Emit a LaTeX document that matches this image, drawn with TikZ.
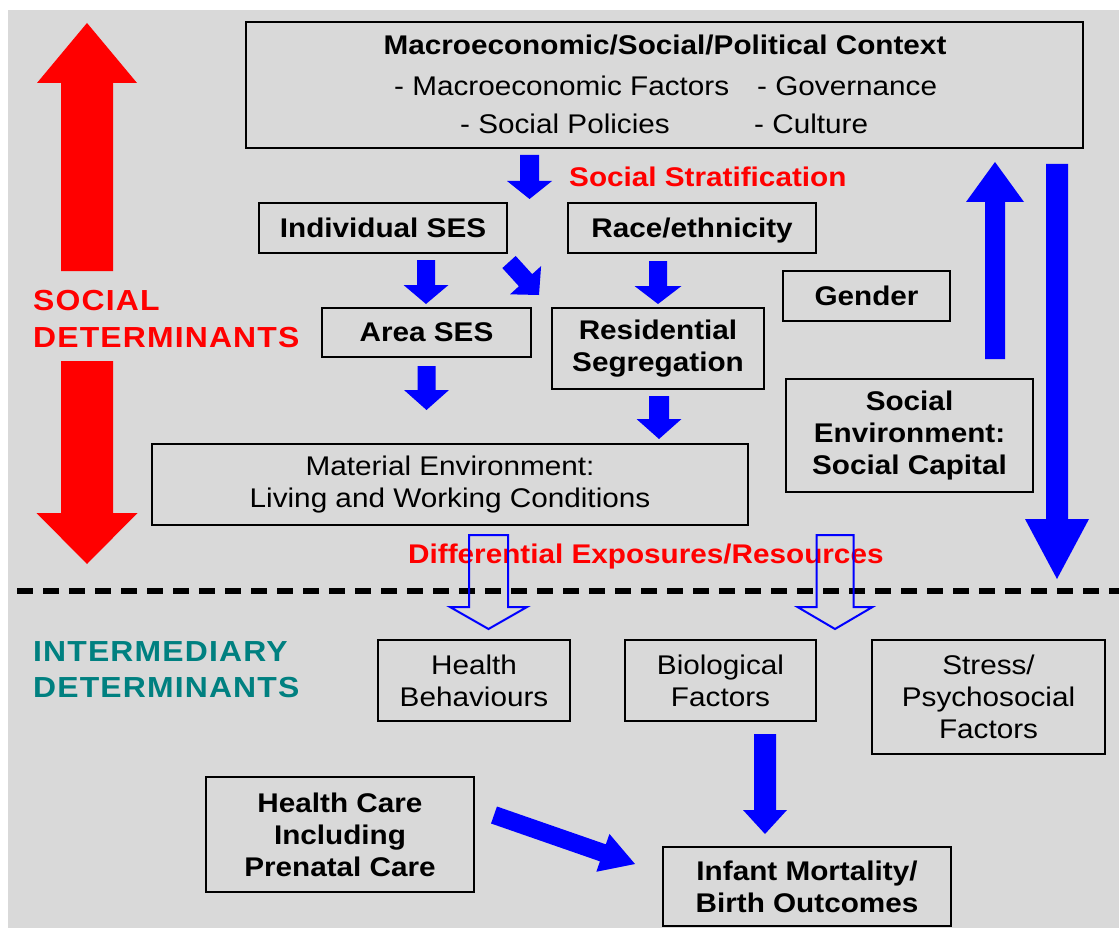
\documentclass[tikz,border=0pt]{standalone}
\usepackage{fontspec}
\setmainfont{Liberation Sans}[FakeStretch=1.1]
\newfontfamily\labfont{Liberation Sans}[FakeStretch=1.1,LetterSpace=4]
\usetikzlibrary{calc}
\definecolor{bg}{RGB}{217,217,217}
\definecolor{tealc}{RGB}{0,128,128}
\definecolor{pblue}{RGB}{0,0,255}
\definecolor{pred}{RGB}{255,0,0}
% block arrow: style, from, to, half shaft width, half head width, head length
\newcommand\barr[6]{%
  \coordinate (hb) at ($(#3)!#6!(#2)$);
  \path[#1] ($(#2)!#4!90:(#3)$) -- ($(hb)!#4!90:(#3)$) -- ($(hb)!#5!90:(#3)$)
    -- (#3) -- ($(hb)!#5!-90:(#3)$) -- ($(hb)!#4!-90:(#3)$) -- ($(#2)!#4!-90:(#3)$) -- cycle;}
\begin{document}
\begin{tikzpicture}[x=1pt,y=-1pt,
  box/.style={draw=black, line width=2.6pt, inner sep=0pt, align=center, font=\fontsize{27}{32}\selectfont},
  bbox/.style={box, font=\fontsize{27}{32}\selectfont\bfseries},
  txt/.style={inner sep=0pt, font=\fontsize{27}{32}\selectfont},
  btxt/.style={inner sep=0pt, font=\fontsize{27}{32}\selectfont\bfseries},
  redlab/.style={btxt, text=pred},
  biglab/.style={inner sep=0pt, font=\fontsize{29}{37}\selectfont\labfont\bfseries},
  solidarrow/.style={fill=pblue},
  hollowarrow/.style={draw=pblue, line width=2pt, line join=miter},
  redarrow/.style={fill=pred},
  divider/.style={line width=6pt, dash pattern=on 16pt off 10pt}]
\useasboundingbox (0,0) rectangle (1119,928);
\fill[white] (0,0) rectangle (1119,928);
\fill[bg] (8,10) rectangle (1119,928);

% divider
\coordinate (dl) at (17,591);
\coordinate (dr) at (1119,591);
\draw[divider] (dl) -- (dr);

% top context box
\node[box, minimum width=837pt, minimum height=126pt] (ctx) at (664.5,85) {};
\node[btxt, anchor=base] (ctxtitle) at (665,55) {Macroeconomic/Social/Political Context};
\node[txt, anchor=base west] (mf) at (394,96) {- Macroeconomic Factors};
\node[txt, anchor=base west] (gov) at (757,96) {- Governance};
\node[txt, anchor=base west] (sp) at (460,134) {- Social Policies};
\node[txt, anchor=base west] (cul) at (754,134) {- Culture};

\node[redlab, anchor=base west] (strat) at (569,187) {Social Stratification};

% boxes
\node[bbox, minimum width=248pt, minimum height=50pt] (indses) at (383,228) {Individual SES};
\node[bbox, minimum width=248pt, minimum height=50pt, text depth=0pt] (race) at (692,228) {Race/ethnicity};
\node[bbox, minimum width=209pt, minimum height=49pt] (areases) at (426.5,332.5) {Area SES};
\node[bbox, minimum width=212pt, minimum height=81pt] (resid) at (658,348.5) {Residential\\Segregation};
\node[bbox, minimum width=167pt, minimum height=50pt] (gender) at (866.5,296) {Gender};
\node[bbox, minimum width=247pt, minimum height=113pt] (socenv) at (909.5,435.5) {Social\\Environment:\\Social Capital};
\node[box, minimum width=596pt, minimum height=81pt] (material) at (450,484.5) {Material Environment:\\Living and Working Conditions};
\node[box, minimum width=192pt, minimum height=81pt] (healthb) at (474,680.5) {Health\\Behaviours};
\node[box, minimum width=191pt, minimum height=81pt] (bio) at (720.5,680.5) {Biological\\Factors};
\node[box, minimum width=233pt, minimum height=114pt] (stress) at (988.5,697) {Stress/\\Psychosocial\\Factors};
\node[bbox, minimum width=268pt, minimum height=115pt] (hcare) at (340,834.5) {Health Care\\Including\\Prenatal Care};
\node[bbox, minimum width=288pt, minimum height=79pt] (infant) at (807,886.5) {Infant Mortality/\\Birth Outcomes};

% side labels
\node[biglab, text=pred, anchor=base west] (socA) at (33,310) {SOCIAL};
\node[biglab, text=pred, anchor=base west] (socB) at (33,347) {DETERMINANTS};
\node[biglab, text=tealc, anchor=base west] (intA) at (33,661) {INTERMEDIARY};
\node[biglab, text=tealc, anchor=base west] (intB) at (33,697) {DETERMINANTS};

\node[redlab, anchor=base west] (diff) at (408,563) {Differential Exposures/Resources};

% red arrows
\coordinate (ru1) at (87,271); \coordinate (ru2) at (87,23);
\barr{redarrow}{ru1}{ru2}{26pt}{50pt}{60pt}
\coordinate (rd1) at (87,361); \coordinate (rd2) at (87,564);
\barr{redarrow}{rd1}{rd2}{26pt}{50.5pt}{51pt}

% blue solid arrows
\coordinate (a1s) at (529.5,155); \coordinate (a1e) at (529.5,199);
\barr{solidarrow}{a1s}{a1e}{9.5pt}{22.5pt}{18pt}
\coordinate (a2s) at (426,260); \coordinate (a2e) at (426,304);
\barr{solidarrow}{a2s}{a2e}{9pt}{22.5pt}{19pt}
\coordinate (a3s) at (509,262); \coordinate (a3e) at (539,295);
\barr{solidarrow}{a3s}{a3e}{9pt}{21pt}{20pt}
\coordinate (a4s) at (658,261); \coordinate (a4e) at (658,304);
\barr{solidarrow}{a4s}{a4e}{9pt}{23.5pt}{18pt}
\coordinate (a5s) at (426.5,366); \coordinate (a5e) at (426.5,410);
\barr{solidarrow}{a5s}{a5e}{9pt}{22.5pt}{20pt}
\coordinate (a6s) at (659,396); \coordinate (a6e) at (659,439);
\barr{solidarrow}{a6s}{a6e}{10pt}{22.5pt}{20pt}
\coordinate (a7s) at (995,359); \coordinate (a7e) at (995,162);
\barr{solidarrow}{a7s}{a7e}{10pt}{29pt}{40pt}
\coordinate (a8s) at (1057,164); \coordinate (a8e) at (1057,579);
\barr{solidarrow}{a8s}{a8e}{11pt}{32pt}{60pt}
\coordinate (a9s) at (765,734); \coordinate (a9e) at (765,834);
\barr{solidarrow}{a9s}{a9e}{11pt}{22pt}{24pt}
\coordinate (a10s) at (494,815); \coordinate (a10e) at (635,864);
\barr{solidarrow}{a10s}{a10e}{9pt}{20pt}{34pt}

% hollow arrows
\coordinate (h1s) at (488.5,535); \coordinate (h1e) at (488.5,629);
\barr{hollowarrow}{h1s}{h1e}{19.5pt}{38.5pt}{22pt}
\coordinate (h2s) at (835,535); \coordinate (h2e) at (835,629);
\barr{hollowarrow}{h2s}{h2e}{18.5pt}{37.5pt}{22pt}
\end{tikzpicture}
\end{document}
